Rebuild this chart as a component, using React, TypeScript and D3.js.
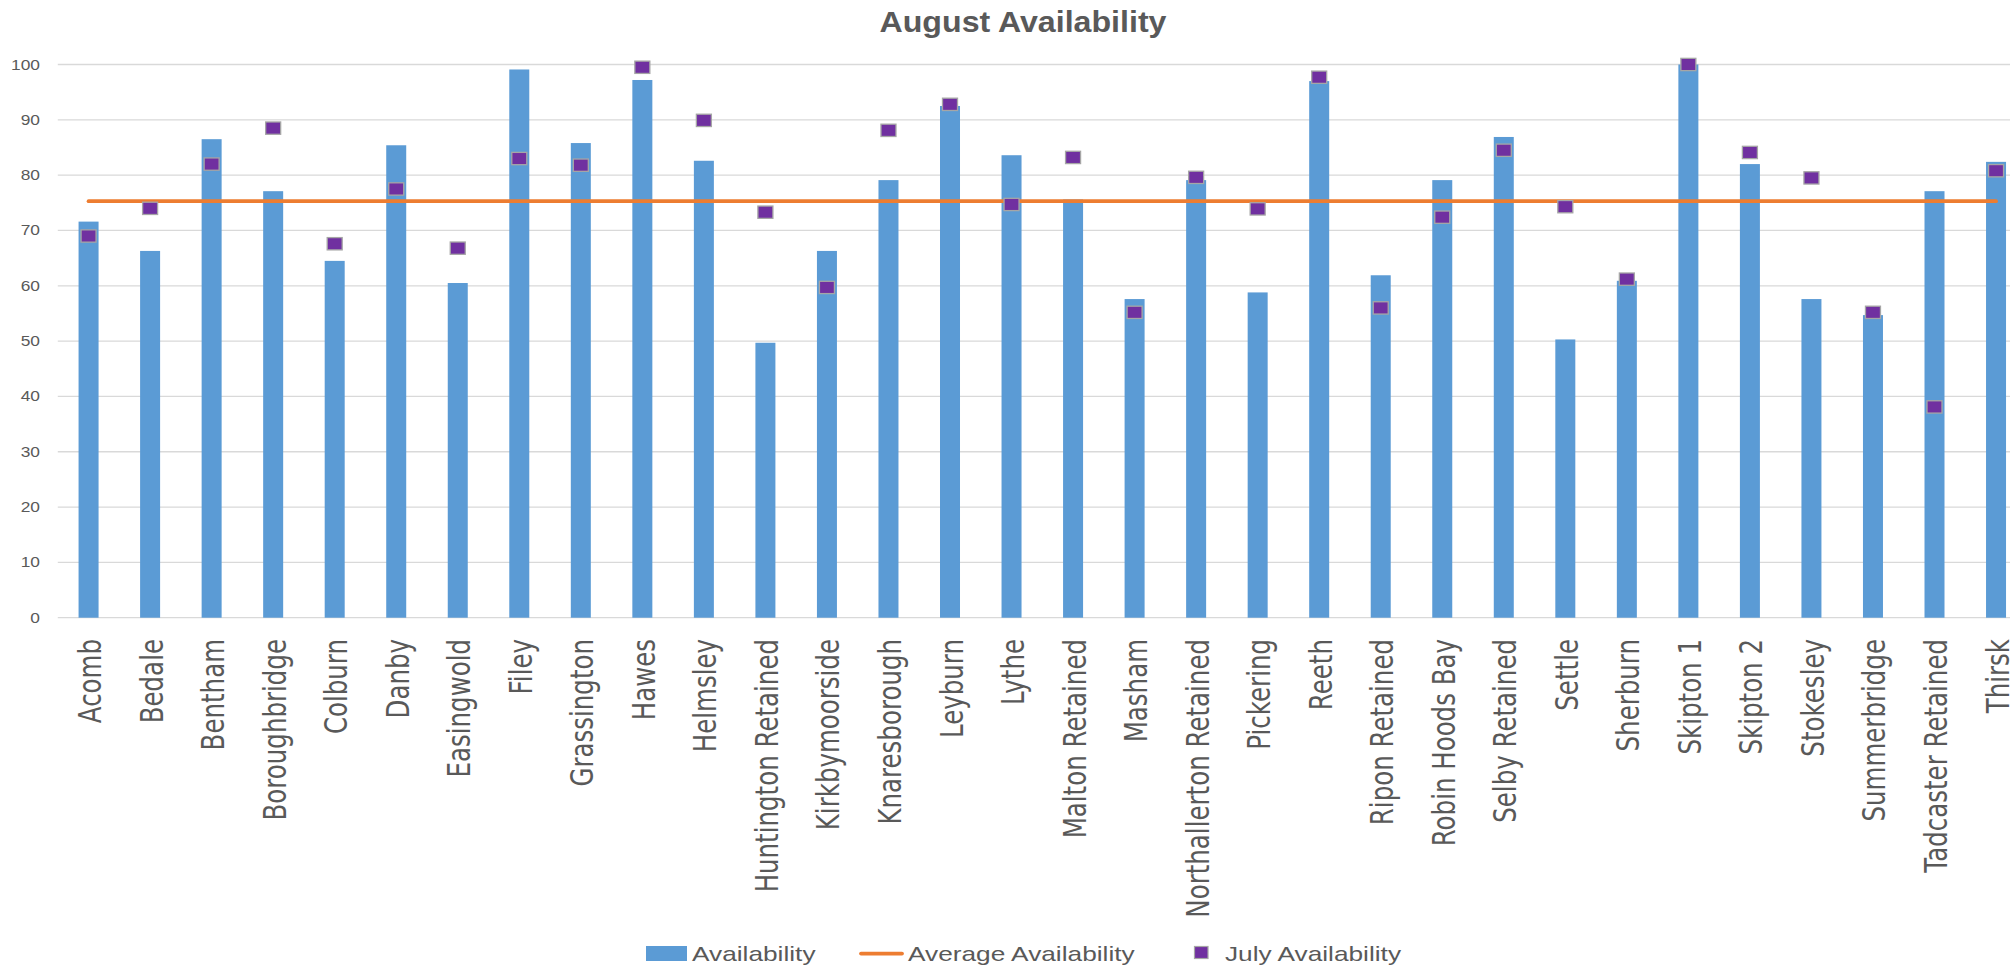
import React from "react";
import * as d3 from "d3";

const categories: string[] = [
  "Acomb", "Bedale", "Bentham", "Boroughbridge", "Colburn", "Danby", "Easingwold", "Filey",
  "Grassington", "Hawes", "Helmsley", "Huntington Retained", "Kirkbymoorside", "Knaresborough",
  "Leyburn", "Lythe", "Malton Retained", "Masham", "Northallerton Retained", "Pickering", "Reeth",
  "Ripon Retained", "Robin Hoods Bay", "Selby Retained", "Settle", "Sherburn", "Skipton 1",
  "Skipton 2", "Stokesley", "Summerbridge", "Tadcaster Retained", "Thirsk",
];

const availability: number[] = [
  71.6, 66.3, 86.5, 77.1, 64.5, 85.4, 60.5, 99.1, 85.8, 97.2, 82.6, 49.7, 66.3, 79.1, 92.5, 83.6,
  75.6, 57.6, 79.1, 58.8, 97.0, 61.9, 79.1, 86.9, 50.3, 60.9, 100, 82.0, 57.6, 54.7, 77.1, 82.4,
];

const julyAvailability: number[] = [
  69.0, 74.0, 82.0, 88.5, 67.6, 77.5, 66.8, 83.0, 81.8, 99.5, 89.9, 73.3, 59.7, 88.1, 92.8, 74.7,
  83.2, 55.2, 79.6, 73.9, 97.7, 56.0, 72.4, 84.5, 74.3, 61.2, 100, 84.1, 79.5, 55.2, 38.1, 80.8,
];

const averageAvailability = 75.3;

const yTicks: number[] = [0, 10, 20, 30, 40, 50, 60, 70, 80, 90, 100];

const title = "August Availability";
const legendLabels: string[] = ["Availability", "Average Availability", "July Availability"];

const W = 2010;
const H = 966;
const BLUE = "#5B9BD5";
const ORANGE = "#ED7D31";
const PURPLE = "#7030A0";
const TEXT = "#595959";
const GRID = "#D9D9D9";

export default function App() {
  const x = d3
    .scaleBand<string>()
    .domain(categories)
    .range([57.8, 2026.8])
    .paddingInner(0.675)
    .paddingOuter(0.3375);
  const y = d3.scaleLinear().domain([0, 100]).range([617.7, 64.5]);
  const cx = (c: string) => (x(c) as number) + x.bandwidth() / 2;

  const avgLine = d3
    .line<string>()
    .x((c) => cx(c))
    .y(() => y(averageAvailability));

  const mw = 15;
  const mh = 12.3;

  return (
    <svg
      width={W}
      height={H}
      style={{ position: "absolute", left: 0, top: 0, background: "#fff" }}
      fontFamily="'Liberation Sans', Arial, sans-serif"
    >
      <rect x={0} y={0} width={W} height={H} fill="#fff" />
      {/* title */}
      <text
        x={1023}
        y={32.3}
        textAnchor="middle"
        fontSize={29.5}
        fontWeight="bold"
        fill={TEXT}
        textLength={287}
        lengthAdjust="spacingAndGlyphs"
      >
        {title}
      </text>

      {/* gridlines */}
      {yTicks.map((t) => (
        <line
          key={"g" + t}
          x1={57.8}
          x2={W}
          y1={y(t)}
          y2={y(t)}
          stroke={GRID}
          strokeWidth={1.3}
        />
      ))}

      {/* y labels */}
      {yTicks.map((t) => (
        <text
          key={"yl" + t}
          transform={`translate(40,${y(t) + 5}) scale(1.24,1)`}
          textAnchor="end"
          fontSize={14}
          fill={TEXT}
        >
          {t}
        </text>
      ))}

      {/* bars */}
      {categories.map((c, i) => (
        <rect
          key={"b" + c}
          x={x(c)}
          y={y(availability[i])}
          width={x.bandwidth()}
          height={y(0) - y(availability[i])}
          fill={BLUE}
        />
      ))}

      {/* average line */}
      <path
        d={avgLine(categories) || ""}
        fill="none"
        stroke={ORANGE}
        strokeWidth={3.75}
        strokeLinecap="round"
      />

      {/* july markers */}
      {categories.map((c, i) => (
        <rect
          key={"m" + c}
          x={cx(c) - mw / 2}
          y={y(julyAvailability[i]) - mh / 2}
          width={mw}
          height={mh}
          fill={PURPLE}
          stroke="#A6A6A6"
          strokeWidth={1.3}
        />
      ))}

      {/* x labels */}
      {categories.map((c) => (
        <text
          key={"xl" + c}
          transform={`translate(${cx(c) + 12.5},639) rotate(-90) scale(1,1.33)`}
          textAnchor="end"
          fontSize={24.5}
          fontFamily="'DejaVu Sans', Verdana, sans-serif"
          fill={TEXT}
        >
          {c}
        </text>
      ))}

      {/* legend */}
      <rect x={646} y={946} width={41} height={15} fill={BLUE} />
      <text transform="translate(692,961) scale(1.25,1)" fontSize={21} fill={TEXT}>
        {legendLabels[0]}
      </text>
      <line x1={861} x2={902} y1={953.5} y2={953.5} stroke={ORANGE} strokeWidth={3.75} strokeLinecap="round" />
      <text transform="translate(908,961) scale(1.25,1)" fontSize={21} fill={TEXT}>
        {legendLabels[1]}
      </text>
      <rect x={1194.5} y={946.5} width={13.5} height={12} fill={PURPLE} stroke="#A6A6A6" strokeWidth={1.2} />
      <text transform="translate(1225,961) scale(1.25,1)" fontSize={21} fill={TEXT}>
        {legendLabels[2]}
      </text>
    </svg>
  );
}
